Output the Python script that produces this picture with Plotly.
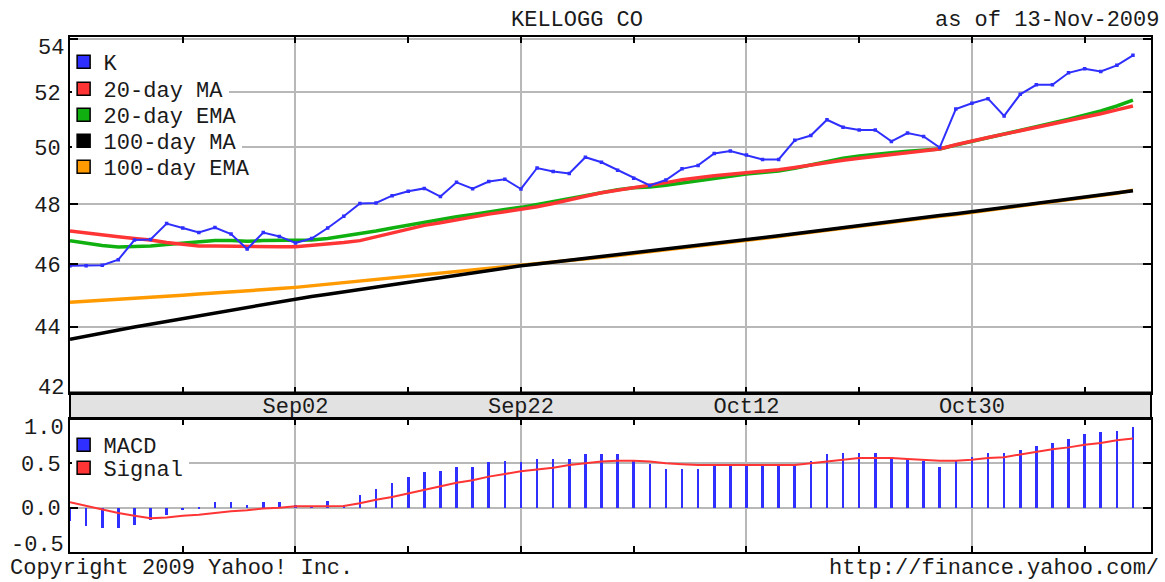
import math
import plotly.graph_objects as go

# ---------------- data ----------------
dates = [
    "2009-08-13", "2009-08-14", "2009-08-17", "2009-08-18", "2009-08-19", "2009-08-20",
    "2009-08-21", "2009-08-24", "2009-08-25", "2009-08-26", "2009-08-27", "2009-08-28",
    "2009-08-31", "2009-09-01", "2009-09-02", "2009-09-03", "2009-09-04", "2009-09-07",
    "2009-09-08", "2009-09-09", "2009-09-10", "2009-09-11", "2009-09-14", "2009-09-15",
    "2009-09-16", "2009-09-17", "2009-09-18", "2009-09-21", "2009-09-22", "2009-09-23",
    "2009-09-24", "2009-09-25", "2009-09-28", "2009-09-29", "2009-09-30", "2009-10-01",
    "2009-10-02", "2009-10-05", "2009-10-06", "2009-10-07", "2009-10-08", "2009-10-09",
    "2009-10-12", "2009-10-13", "2009-10-14", "2009-10-15", "2009-10-16", "2009-10-19",
    "2009-10-20", "2009-10-21", "2009-10-22", "2009-10-23", "2009-10-26", "2009-10-27",
    "2009-10-28", "2009-10-29", "2009-10-30", "2009-11-02", "2009-11-03", "2009-11-04",
    "2009-11-05", "2009-11-06", "2009-11-09", "2009-11-10", "2009-11-11", "2009-11-12",
    "2009-11-13",
]

k_close = [
    45.95, 45.95, 45.97, 46.15, 46.80, 46.82, 47.35, 47.20, 47.05, 47.22,
    47.00, 46.50, 47.05, 46.92, 46.70, 46.85, 47.20, 47.60, 48.03, 48.05,
    48.30, 48.45, 48.55, 48.27, 48.76, 48.54, 48.79, 48.87, 48.53, 49.26,
    49.14, 49.07, 49.64, 49.46, 49.18, 48.90, 48.65, 48.84, 49.23, 49.35,
    49.77, 49.86, 49.72, 49.56, 49.56, 50.24, 50.41, 50.98, 50.71, 50.61,
    50.61, 50.20, 50.50, 50.38, 49.98, 51.37, 51.58, 51.75, 51.12, 51.91,
    52.26, 52.26, 52.71, 52.86, 52.76, 52.99, 53.37,
]

ma20 = [
    47.10, 47.03, 46.97, 46.91, 46.85, 46.80, 46.72, 46.65, 46.60, 46.60,
    46.59, 46.58, 46.58, 46.58, 46.58, 46.62, 46.67, 46.72, 46.78, 46.90,
    47.03, 47.17, 47.29, 47.38, 47.48, 47.58, 47.67, 47.75, 47.82, 47.92,
    48.03, 48.14, 48.28, 48.40, 48.48, 48.56, 48.65, 48.75, 48.85, 48.93,
    48.99, 49.04, 49.09, 49.14, 49.20, 49.28, 49.37, 49.46, 49.53, 49.60,
    49.67, 49.74, 49.80, 49.87, 49.93, 50.08, 50.22, 50.34, 50.46, 50.58,
    50.70, 50.82, 50.95, 51.08, 51.20, 51.34, 51.48,
]

ema20 = [
    46.78, 46.70, 46.62, 46.57, 46.58, 46.60, 46.65, 46.70, 46.75, 46.78,
    46.78, 46.76, 46.78, 46.79, 46.78, 46.80, 46.85, 46.93, 47.00, 47.10,
    47.20, 47.30, 47.40, 47.48, 47.58, 47.66, 47.75, 47.83, 47.90, 48.00,
    48.10, 48.20, 48.32, 48.42, 48.50, 48.57, 48.60, 48.66, 48.74, 48.82,
    48.91, 48.99, 49.05, 49.10, 49.15, 49.25, 49.36, 49.50, 49.60, 49.68,
    49.75, 49.80, 49.85, 49.90, 49.93, 50.07, 50.20, 50.33, 50.44, 50.58,
    50.72, 50.86, 51.00, 51.14, 51.30, 51.48, 51.70,
]

ma100 = [
    43.61, 43.71, 43.80, 43.90, 43.99, 44.08, 44.17, 44.26, 44.35, 44.44,
    44.53, 44.62, 44.71, 44.80, 44.88, 44.96, 45.03, 45.11, 45.18, 45.26,
    45.33, 45.41, 45.49, 45.56, 45.64, 45.72, 45.80, 45.87, 45.95, 46.01,
    46.07, 46.13, 46.19, 46.25, 46.31, 46.37, 46.43, 46.49, 46.55, 46.61,
    46.67, 46.74, 46.80, 46.87, 46.94, 47.01, 47.08, 47.14, 47.21, 47.28,
    47.35, 47.41, 47.48, 47.55, 47.62, 47.68, 47.75, 47.82, 47.89, 47.96,
    48.03, 48.10, 48.18, 48.25, 48.32, 48.40, 48.47,
]

ema100 = [
    44.77, 44.80, 44.84, 44.87, 44.90, 44.94, 44.97, 45.00, 45.04, 45.07,
    45.11, 45.14, 45.18, 45.21, 45.25, 45.30, 45.35, 45.40, 45.46, 45.51,
    45.56, 45.61, 45.66, 45.71, 45.77, 45.82, 45.87, 45.92, 45.96, 46.01,
    46.05, 46.11, 46.17, 46.23, 46.29, 46.35, 46.41, 46.47, 46.53, 46.59,
    46.65, 46.72, 46.78, 46.85, 46.92, 46.99, 47.06, 47.12, 47.19, 47.26,
    47.33, 47.39, 47.46, 47.53, 47.60, 47.66, 47.73, 47.80, 47.87, 47.94,
    48.01, 48.08, 48.16, 48.23, 48.30, 48.38, 48.49,
]

macd = [
    -0.15, -0.21, -0.23, -0.23, -0.19, -0.14, -0.08, -0.03, -0.02, 0.06,
    0.06, 0.03, 0.06, 0.06, 0.03, 0.02, 0.08, 0.03, 0.14, 0.21,
    0.28, 0.35, 0.40, 0.41, 0.46, 0.46, 0.51, 0.53, 0.51, 0.55,
    0.55, 0.55, 0.60, 0.60, 0.60, 0.53, 0.49, 0.44, 0.44, 0.44,
    0.47, 0.49, 0.48, 0.47, 0.47, 0.49, 0.53, 0.60, 0.62, 0.62,
    0.62, 0.57, 0.55, 0.53, 0.46, 0.53, 0.57, 0.62, 0.62, 0.65,
    0.70, 0.73, 0.78, 0.83, 0.85, 0.87, 0.91,
]

signal = [
    0.06, 0.02, -0.02, -0.06, -0.09, -0.12, -0.11, -0.09, -0.08, -0.06,
    -0.04, -0.03, -0.01, 0.00, 0.015, 0.015, 0.02, 0.02, 0.05, 0.09,
    0.12, 0.16, 0.20, 0.24, 0.28, 0.31, 0.35, 0.38, 0.41, 0.43,
    0.45, 0.48, 0.50, 0.52, 0.53, 0.53, 0.52, 0.50, 0.49, 0.48,
    0.48, 0.48, 0.48, 0.48, 0.48, 0.48, 0.50, 0.52, 0.54, 0.56,
    0.56, 0.56, 0.55, 0.54, 0.53, 0.53, 0.54, 0.56, 0.57, 0.60,
    0.63, 0.66, 0.68, 0.71, 0.73, 0.76, 0.78,
]

major_tick_dates = ["2009-09-02", "2009-09-22", "2009-10-12", "2009-10-30"]
major_tick_labels = ["Sep02", "Sep22", "Oct12", "Oct30"]
minor_tick_dates = ["2009-08-24", "2009-09-11", "2009-10-01", "2009-10-21", "2009-11-10"]
price_ticks = [42, 44, 46, 48, 50, 52, 54]
macd_ticks = [-0.5, 0.0, 0.5, 1.0]
macd_tick_labels = ["-0.5", "0.0", "0.5", "1.0"]

title_text = "KELLOGG CO"
asof_text = "as of 13-Nov-2009"
copyright_text = "Copyright 2009 Yahoo! Inc."
url_text = "http://finance.yahoo.com/"

# ---------------- styling ----------------
FONT = "Liberation Mono, DejaVu Sans Mono, monospace"
TXT = "#1a1a1a"
BLUE = "#2f2fff"
RED = "#ff3535"
GREEN = "#10b010"
ORANGE = "#ff9a00"
BLACK = "#000000"
GRID = "#b8b8b8"

W, H = 1165, 582
ML, MR, MT, MB = 70, 14, 37, 30
PH = H - MT - MB
PW = W - ML - MR


def py(px):  # pixel row -> paper y
    return (H - MB - px) / PH


idx = list(range(len(dates)))
major_idx = [dates.index(d) for d in major_tick_dates]
minor_idx = [dates.index(d) for d in minor_tick_dates]

fig = go.Figure()

# main price panel lines
for vals, col, wid in [(ema100, ORANGE, 3.5), (ma100, BLACK, 3.5),
                       (ema20, GREEN, 3.5), (ma20, RED, 3.5)]:
    fig.add_trace(go.Scatter(x=idx, y=vals, mode="lines", line=dict(color=col, width=wid),
                             showlegend=False, hoverinfo="skip", xaxis="x", yaxis="y"))
fig.add_trace(go.Scatter(x=idx, y=k_close, mode="lines+markers",
                         line=dict(color=BLUE, width=2),
                         marker=dict(color=BLUE, size=3.5, symbol="square"),
                         text=dates, showlegend=False, xaxis="x", yaxis="y"))

# MACD panel
fig.add_trace(go.Bar(x=idx, y=macd, width=0.16, marker=dict(color=BLUE, line=dict(width=0)),
                     showlegend=False, xaxis="x2", yaxis="y2"))
fig.add_trace(go.Scatter(x=idx, y=signal, mode="lines", line=dict(color=RED, width=2),
                         showlegend=False, xaxis="x2", yaxis="y2"))

# legend entries (square swatches), one small legend per row.
# Rows crossed by a grid line get a white background and are drawn first.
legend_rows = [
    ("20-day MA", RED, "legend", "x", "y", 89, "white"),
    ("100-day MA", BLACK, "legend2", "x", "y", 141, "white"),
    ("Signal", RED, "legend3", "x2", "y2", 468, "white"),
    ("K", BLUE, "legend4", "x", "y", 62, "rgba(0,0,0,0)"),
    ("20-day EMA", GREEN, "legend5", "x", "y", 115, "rgba(0,0,0,0)"),
    ("100-day EMA", ORANGE, "legend6", "x", "y", 167, "rgba(0,0,0,0)"),
    ("MACD", BLUE, "legend7", "x2", "y2", 445, "rgba(0,0,0,0)"),
]
legend_layout = {}
for name, col, leg, xa, ya, ypx, bg in legend_rows:
    fig.add_trace(go.Scatter(x=[None], y=[None], mode="markers", name=name,
                             marker=dict(symbol="square", size=13, color=col,
                                         line=dict(color="black", width=1.5)),
                             legend=leg, xaxis=xa, yaxis=ya, hoverinfo="skip"))
    legend_layout[leg] = dict(x=0.0015, xanchor="left", y=py(ypx), yanchor="middle",
                              bgcolor=bg, borderwidth=0, indentation=-8,
                              font=dict(family=FONT, size=22, color=TXT),
                              itemclick=False, itemdoubleclick=False)

axis_common = dict(showline=True, linecolor="black", linewidth=2, mirror="ticks",
                   ticks="inside", tickcolor="black", tickwidth=2,
                   gridcolor=GRID, gridwidth=2, zeroline=False,
                   tickfont=dict(family=FONT, size=22, color=TXT))

main_bottom = py(392.5)
macd_top = py(419)

fig.update_layout(
    width=W, height=H,
    margin=dict(l=ML, r=MR, t=MT, b=MB),
    paper_bgcolor="white", plot_bgcolor="white",
    showlegend=True, bargap=0,
    xaxis=dict(domain=[0, 1], anchor="y", range=[0, 67.12], tickmode="array",
               tickvals=major_idx, ticktext=major_tick_labels, ticklen=6,
               ticklabelstandoff=-8,
               minor=dict(tickvals=minor_idx, ticks="inside", ticklen=6, tickwidth=2,
                          tickcolor="black", showgrid=False),
               **axis_common),
    yaxis=dict(domain=[main_bottom, 1], anchor="x", type="log",
               range=[math.log10(41.99), math.log10(54.07)],
               tickmode="array", tickvals=price_ticks,
               ticktext=["" if v in (42, 54) else str(v) for v in price_ticks],
               ticklen=8, ticklabelstandoff=3, **axis_common),
    xaxis2=dict(domain=[0, 1], anchor="y2", matches="x", range=[0, 67.12],
                tickmode="array", tickvals=major_idx, showticklabels=False, ticklen=6,
                minor=dict(tickvals=minor_idx, ticks="inside", ticklen=6, tickwidth=2,
                           tickcolor="black", showgrid=False),
                **axis_common),
    yaxis2=dict(domain=[0, macd_top], anchor="x2", range=[-0.5, 1.0],
                tickmode="array", tickvals=macd_ticks,
                ticktext=["" if v in (-0.5, 1.0) else t for v, t in zip(macd_ticks, macd_tick_labels)],
                ticklen=8, ticklabelstandoff=3, **axis_common),
    **legend_layout,
)

# date strip between the panels
fig.add_shape(type="rect", xref="paper", yref="paper", x0=0, x1=1,
              y0=macd_top, y1=main_bottom, fillcolor="#e2e2e2",
              line=dict(color="black", width=2), layer="below")

tfont = dict(family=FONT, size=22, color=TXT)
ann = [
    dict(text=title_text, x=(577 - ML) / PW, y=py(21), xanchor="center"),
    dict(text=asof_text, x=(1161 - ML) / PW, y=py(21), xanchor="right"),
    dict(text=copyright_text, x=(8 - ML) / PW, y=py(568), xanchor="left"),
    dict(text=url_text, x=(1161 - ML) / PW, y=py(568), xanchor="right"),
]
for a in ann:
    fig.add_annotation(xref="paper", yref="paper", yanchor="middle", showarrow=False,
                       font=tfont, **a)

# end-of-axis labels nudged inside the panel like the original
end_labels = [
    ("y", math.log10(price_ticks[-1]), str(price_ticks[-1]), -10),
    ("y", math.log10(price_ticks[0]), str(price_ticks[0]), 4),
    ("y2", macd_ticks[-1], macd_tick_labels[-1], -9),
    ("y2", macd_ticks[0], macd_tick_labels[0], 7),
]
for yref, yv, txt, shift in end_labels:
    fig.add_annotation(xref="paper", x=0, xanchor="right", xshift=-4, yref=yref, y=yv,
                       yanchor="middle", yshift=shift, text=txt, showarrow=False, font=tfont)

fig.write_html("out.html", config={"displayModeBar": False},
               post_script="document.body.style.margin='0';")
